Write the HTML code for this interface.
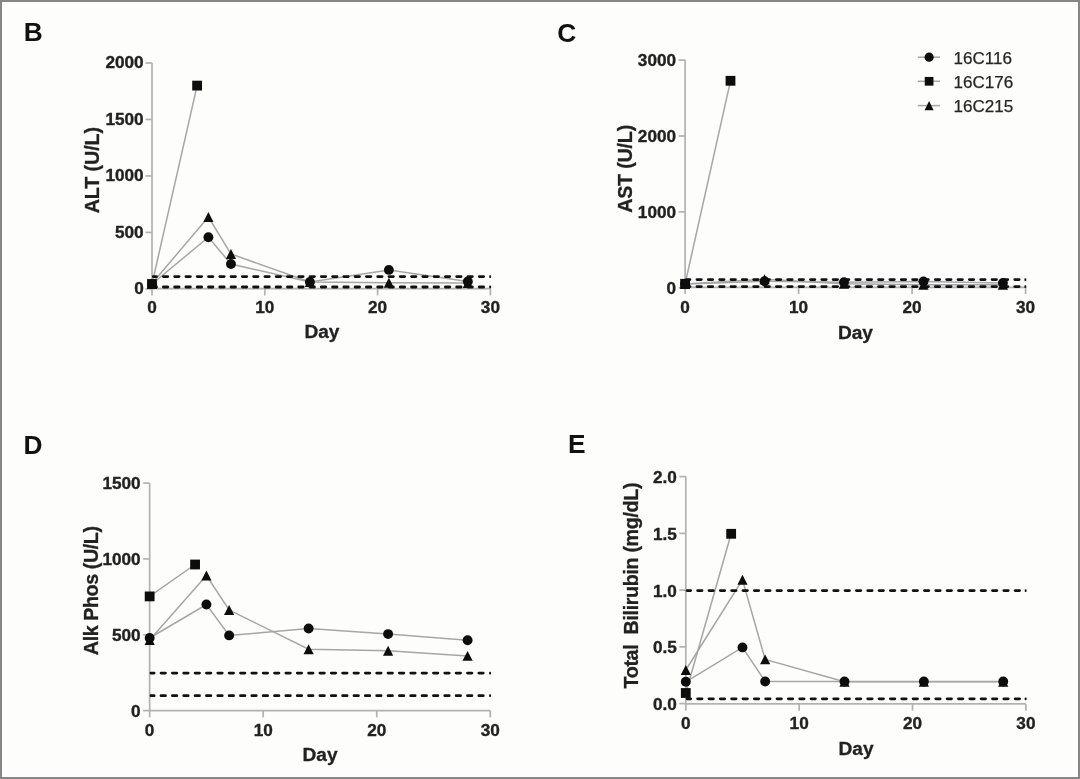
<!DOCTYPE html>
<html><head><meta charset="utf-8"><style>
html,body{margin:0;padding:0;background:#fdfdfc;}
body{width:1080px;height:779px;overflow:hidden;position:relative;}
.bd{position:absolute;left:0;top:0;width:1076px;height:775px;border:2px solid #878787;}
svg{display:block;filter:blur(0.5px);}
text{font-family:"Liberation Sans", sans-serif;}
.tk{font-size:17.2px;font-weight:bold;fill:#222;stroke:#222;stroke-width:0.35px;}
.ti{font-size:19.7px;font-weight:bold;fill:#222;stroke:#222;stroke-width:0.3px;}
.lt{font-size:26.3px;font-weight:bold;fill:#111;}
.lg{font-size:17.1px;fill:#262626;stroke:#262626;stroke-width:0.25px;}
</style></head><body>
<svg width="1080" height="779" viewBox="0 0 1080 779">
<rect x="0" y="0" width="1080" height="779" fill="#fdfdfc"/>
<path d="M152 63V288.6H490.4" fill="none" stroke="#b2b2b2" stroke-width="1.7"/>
<path d="M145.5 288.9H152" stroke="#b2b2b2" stroke-width="1.7"/>
<text x="143.7" y="294.3" text-anchor="end" class="tk">0</text>
<path d="M145.5 232.42H152" stroke="#b2b2b2" stroke-width="1.7"/>
<text x="143.7" y="237.82" text-anchor="end" class="tk">500</text>
<path d="M145.5 175.95H152" stroke="#b2b2b2" stroke-width="1.7"/>
<text x="143.7" y="181.35" text-anchor="end" class="tk">1000</text>
<path d="M145.5 119.47H152" stroke="#b2b2b2" stroke-width="1.7"/>
<text x="143.7" y="124.88" text-anchor="end" class="tk">1500</text>
<path d="M145.5 63H152" stroke="#b2b2b2" stroke-width="1.7"/>
<text x="143.7" y="68.4" text-anchor="end" class="tk">2000</text>
<path d="M152 288.6V295.4" stroke="#b2b2b2" stroke-width="1.7"/>
<text x="152" y="313.4" text-anchor="middle" class="tk">0</text>
<path d="M264.8 288.6V295.4" stroke="#b2b2b2" stroke-width="1.7"/>
<text x="264.8" y="313.4" text-anchor="middle" class="tk">10</text>
<path d="M377.6 288.6V295.4" stroke="#b2b2b2" stroke-width="1.7"/>
<text x="377.6" y="313.4" text-anchor="middle" class="tk">20</text>
<path d="M490.4 288.6V295.4" stroke="#b2b2b2" stroke-width="1.7"/>
<text x="490.4" y="313.4" text-anchor="middle" class="tk">30</text>
<path d="M152 284L208.4 237.2L230.96 264L309.92 282L388.88 269.9L467.84 281.5" fill="none" stroke="#a6a6a6" stroke-width="1.5"/>
<path d="M152 284L197.12 85.6" fill="none" stroke="#a6a6a6" stroke-width="1.5"/>
<path d="M152 283.5L208.4 217L230.96 254L309.92 282L388.88 282.7L467.84 283" fill="none" stroke="#a6a6a6" stroke-width="1.5"/>
<path d="M153.3 276.6H489.5" stroke="#111" stroke-width="2.8" stroke-dasharray="4.4 6.88" stroke-linecap="round" stroke-dashoffset="1.2"/>
<rect x="489.2" y="275.2" width="1.9" height="2.8" rx="0.8" fill="#111"/>
<path d="M153.3 287H489.5" stroke="#111" stroke-width="2.8" stroke-dasharray="4.4 6.88" stroke-linecap="round" stroke-dashoffset="1.2"/>
<rect x="489.2" y="285.6" width="1.9" height="2.8" rx="0.8" fill="#111"/>
<rect x="147.1" y="279.1" width="9.8" height="9.8" fill="#0d0d0d"/>
<rect x="192.22" y="80.7" width="9.8" height="9.8" fill="#0d0d0d"/>
<path d="M152 278.55L157.1 288.45L146.9 288.45Z" fill="#0d0d0d"/>
<path d="M208.4 212.05L213.5 221.95L203.3 221.95Z" fill="#0d0d0d"/>
<path d="M230.96 249.05L236.06 258.95L225.86 258.95Z" fill="#0d0d0d"/>
<path d="M309.92 277.05L315.02 286.95L304.82 286.95Z" fill="#0d0d0d"/>
<path d="M388.88 277.75L393.98 287.65L383.78 287.65Z" fill="#0d0d0d"/>
<path d="M467.84 278.05L472.94 287.95L462.74 287.95Z" fill="#0d0d0d"/>
<circle cx="152" cy="284" r="4.95" fill="#0d0d0d"/>
<circle cx="208.4" cy="237.2" r="4.95" fill="#0d0d0d"/>
<circle cx="230.96" cy="264" r="4.95" fill="#0d0d0d"/>
<circle cx="309.92" cy="282" r="4.95" fill="#0d0d0d"/>
<circle cx="388.88" cy="269.9" r="4.95" fill="#0d0d0d"/>
<circle cx="467.84" cy="281.5" r="4.95" fill="#0d0d0d"/>
<text x="321.9" y="338.3" text-anchor="middle" class="ti" style="font-size:19.1px">Day</text>
<text transform="translate(98.7 170.2) rotate(-90)" text-anchor="middle" class="ti" style="letter-spacing:-0.1px" xml:space="preserve">ALT (U/L)</text>
<text x="23.8" y="41.2" class="lt">B</text>
<path d="M685.1 60.1V287.3H1025.6" fill="none" stroke="#b2b2b2" stroke-width="1.7"/>
<path d="M678.6 287.8H685.1" stroke="#b2b2b2" stroke-width="1.7"/>
<text x="676.1" y="293.8" text-anchor="end" class="tk">0</text>
<path d="M678.6 211.9H685.1" stroke="#b2b2b2" stroke-width="1.7"/>
<text x="676.1" y="217.9" text-anchor="end" class="tk">1000</text>
<path d="M678.6 136H685.1" stroke="#b2b2b2" stroke-width="1.7"/>
<text x="676.1" y="142" text-anchor="end" class="tk">2000</text>
<path d="M678.6 60.1H685.1" stroke="#b2b2b2" stroke-width="1.7"/>
<text x="676.1" y="66.1" text-anchor="end" class="tk">3000</text>
<path d="M685.1 287.3V294.1" stroke="#b2b2b2" stroke-width="1.7"/>
<text x="685.1" y="312.8" text-anchor="middle" class="tk">0</text>
<path d="M798.6 287.3V294.1" stroke="#b2b2b2" stroke-width="1.7"/>
<text x="798.6" y="312.8" text-anchor="middle" class="tk">10</text>
<path d="M912.1 287.3V294.1" stroke="#b2b2b2" stroke-width="1.7"/>
<text x="912.1" y="312.8" text-anchor="middle" class="tk">20</text>
<path d="M1025.6 287.3V294.1" stroke="#b2b2b2" stroke-width="1.7"/>
<text x="1025.6" y="312.8" text-anchor="middle" class="tk">30</text>
<path d="M685.1 284L764.55 281.2L844 282.3L923.45 281.5L1002.9 283" fill="none" stroke="#a6a6a6" stroke-width="1.5"/>
<path d="M685.1 283.8L730.5 80.8" fill="none" stroke="#a6a6a6" stroke-width="1.5"/>
<path d="M685.1 284L764.55 279.3L844 283.8L923.45 284.8L1002.9 284.8" fill="none" stroke="#a6a6a6" stroke-width="1.5"/>
<path d="M686.4 279.6H1024.7" stroke="#111" stroke-width="2.8" stroke-dasharray="4.4 6.95" stroke-linecap="round" stroke-dashoffset="0.8"/>
<rect x="1024.4" y="278.2" width="1.9" height="2.8" rx="0.8" fill="#111"/>
<path d="M686.4 286.6H1024.7" stroke="#111" stroke-width="2.8" stroke-dasharray="4.4 6.95" stroke-linecap="round" stroke-dashoffset="0.8"/>
<rect x="1024.4" y="285.2" width="1.9" height="2.8" rx="0.8" fill="#111"/>
<rect x="680.2" y="278.9" width="9.8" height="9.8" fill="#0d0d0d"/>
<rect x="725.6" y="75.9" width="9.8" height="9.8" fill="#0d0d0d"/>
<path d="M685.1 279.05L690.2 288.95L680 288.95Z" fill="#0d0d0d"/>
<path d="M764.55 274.35L769.65 284.25L759.45 284.25Z" fill="#0d0d0d"/>
<path d="M844 278.85L849.1 288.75L838.9 288.75Z" fill="#0d0d0d"/>
<path d="M923.45 279.85L928.55 289.75L918.35 289.75Z" fill="#0d0d0d"/>
<path d="M1002.9 279.85L1008 289.75L997.8 289.75Z" fill="#0d0d0d"/>
<circle cx="685.1" cy="284" r="4.95" fill="#0d0d0d"/>
<circle cx="764.55" cy="281.2" r="4.95" fill="#0d0d0d"/>
<circle cx="844" cy="282.3" r="4.95" fill="#0d0d0d"/>
<circle cx="923.45" cy="281.5" r="4.95" fill="#0d0d0d"/>
<circle cx="1002.9" cy="283" r="4.95" fill="#0d0d0d"/>
<text x="855.4" y="338.5" text-anchor="middle" class="ti" style="font-size:19.1px">Day</text>
<text transform="translate(632.1 168.9) rotate(-90)" text-anchor="middle" class="ti" style="letter-spacing:-0.2px" xml:space="preserve">AST (U/L)</text>
<text x="557.2" y="42.2" class="lt">C</text>
<path d="M149.65 483.1V710.6H490.3" fill="none" stroke="#b2b2b2" stroke-width="1.7"/>
<path d="M143.15 710.6H149.65" stroke="#b2b2b2" stroke-width="1.7"/>
<text x="140.65" y="716.6" text-anchor="end" class="tk">0</text>
<path d="M143.15 634.77H149.65" stroke="#b2b2b2" stroke-width="1.7"/>
<text x="140.65" y="640.77" text-anchor="end" class="tk">500</text>
<path d="M143.15 558.93H149.65" stroke="#b2b2b2" stroke-width="1.7"/>
<text x="140.65" y="564.93" text-anchor="end" class="tk">1000</text>
<path d="M143.15 483.1H149.65" stroke="#b2b2b2" stroke-width="1.7"/>
<text x="140.65" y="489.1" text-anchor="end" class="tk">1500</text>
<path d="M149.65 710.6V717.4" stroke="#b2b2b2" stroke-width="1.7"/>
<text x="149.65" y="736.1" text-anchor="middle" class="tk">0</text>
<path d="M263.2 710.6V717.4" stroke="#b2b2b2" stroke-width="1.7"/>
<text x="263.2" y="736.1" text-anchor="middle" class="tk">10</text>
<path d="M376.75 710.6V717.4" stroke="#b2b2b2" stroke-width="1.7"/>
<text x="376.75" y="736.1" text-anchor="middle" class="tk">20</text>
<path d="M490.3 710.6V717.4" stroke="#b2b2b2" stroke-width="1.7"/>
<text x="490.3" y="736.1" text-anchor="middle" class="tk">30</text>
<path d="M149.65 638L206.43 604.5L229.13 635.4L308.62 628.5L388.11 634.1L467.59 640.2" fill="none" stroke="#a6a6a6" stroke-width="1.5"/>
<path d="M149.65 596.4L195.07 564.5" fill="none" stroke="#a6a6a6" stroke-width="1.5"/>
<path d="M149.65 640L206.43 575.5L229.13 610L308.62 649.2L388.11 650.7L467.59 655.9" fill="none" stroke="#a6a6a6" stroke-width="1.5"/>
<path d="M150.95 673.1H489.4" stroke="#111" stroke-width="2.8" stroke-dasharray="4.4 6.95" stroke-linecap="round" stroke-dashoffset="1.25"/>
<rect x="489.1" y="671.7" width="1.9" height="2.8" rx="0.8" fill="#111"/>
<path d="M150.95 695.7H489.4" stroke="#111" stroke-width="2.8" stroke-dasharray="4.4 6.95" stroke-linecap="round" stroke-dashoffset="1.25"/>
<rect x="489.1" y="694.3" width="1.9" height="2.8" rx="0.8" fill="#111"/>
<rect x="144.75" y="591.5" width="9.8" height="9.8" fill="#0d0d0d"/>
<rect x="190.17" y="559.6" width="9.8" height="9.8" fill="#0d0d0d"/>
<path d="M149.65 635.05L154.75 644.95L144.55 644.95Z" fill="#0d0d0d"/>
<path d="M206.43 570.55L211.53 580.45L201.33 580.45Z" fill="#0d0d0d"/>
<path d="M229.13 605.05L234.23 614.95L224.03 614.95Z" fill="#0d0d0d"/>
<path d="M308.62 644.25L313.72 654.15L303.52 654.15Z" fill="#0d0d0d"/>
<path d="M388.11 645.75L393.21 655.65L383 655.65Z" fill="#0d0d0d"/>
<path d="M467.59 650.95L472.69 660.85L462.49 660.85Z" fill="#0d0d0d"/>
<circle cx="149.65" cy="638" r="4.95" fill="#0d0d0d"/>
<circle cx="206.43" cy="604.5" r="4.95" fill="#0d0d0d"/>
<circle cx="229.13" cy="635.4" r="4.95" fill="#0d0d0d"/>
<circle cx="308.62" cy="628.5" r="4.95" fill="#0d0d0d"/>
<circle cx="388.11" cy="634.1" r="4.95" fill="#0d0d0d"/>
<circle cx="467.59" cy="640.2" r="4.95" fill="#0d0d0d"/>
<text x="320" y="761.3" text-anchor="middle" class="ti" style="font-size:19.1px">Day</text>
<text transform="translate(97.7 590.8) rotate(-90)" text-anchor="middle" class="ti" style="letter-spacing:-0.42px" xml:space="preserve">Alk Phos (U/L)</text>
<text x="23.5" y="454" class="lt">D</text>
<path d="M685.8 476.6V703.9H1025.9" fill="none" stroke="#b2b2b2" stroke-width="1.7"/>
<path d="M679.3 703.6H685.8" stroke="#b2b2b2" stroke-width="1.7"/>
<text x="676.8" y="710" text-anchor="end" class="tk">0.0</text>
<path d="M679.3 646.85H685.8" stroke="#b2b2b2" stroke-width="1.7"/>
<text x="676.8" y="653.25" text-anchor="end" class="tk">0.5</text>
<path d="M679.3 590.1H685.8" stroke="#b2b2b2" stroke-width="1.7"/>
<text x="676.8" y="596.5" text-anchor="end" class="tk">1.0</text>
<path d="M679.3 533.35H685.8" stroke="#b2b2b2" stroke-width="1.7"/>
<text x="676.8" y="539.75" text-anchor="end" class="tk">1.5</text>
<path d="M679.3 476.6H685.8" stroke="#b2b2b2" stroke-width="1.7"/>
<text x="676.8" y="483" text-anchor="end" class="tk">2.0</text>
<path d="M685.8 703.9V710.7" stroke="#b2b2b2" stroke-width="1.7"/>
<text x="685.8" y="729.4" text-anchor="middle" class="tk">0</text>
<path d="M799.17 703.9V710.7" stroke="#b2b2b2" stroke-width="1.7"/>
<text x="799.17" y="729.4" text-anchor="middle" class="tk">10</text>
<path d="M912.53 703.9V710.7" stroke="#b2b2b2" stroke-width="1.7"/>
<text x="912.53" y="729.4" text-anchor="middle" class="tk">20</text>
<path d="M1025.9 703.9V710.7" stroke="#b2b2b2" stroke-width="1.7"/>
<text x="1025.9" y="729.4" text-anchor="middle" class="tk">30</text>
<path d="M685.8 681.8L742.48 647.4L765.16 681.5L844.51 681.5L923.87 681.5L1003.23 681.5" fill="none" stroke="#a6a6a6" stroke-width="1.5"/>
<path d="M685.8 693L731.15 533.8" fill="none" stroke="#a6a6a6" stroke-width="1.5"/>
<path d="M685.8 670L742.48 579.8L765.16 659.4L844.51 681.8L923.87 681.8L1003.23 681.8" fill="none" stroke="#a6a6a6" stroke-width="1.5"/>
<path d="M687.1 590.6H1025" stroke="#111" stroke-width="2.8" stroke-dasharray="4.4 6.94" stroke-linecap="round" stroke-dashoffset="0.8"/>
<rect x="1024.7" y="589.2" width="1.9" height="2.8" rx="0.8" fill="#111"/>
<path d="M687.1 698.8H1025" stroke="#111" stroke-width="2.8" stroke-dasharray="4.4 6.94" stroke-linecap="round" stroke-dashoffset="0.8"/>
<rect x="1024.7" y="697.4" width="1.9" height="2.8" rx="0.8" fill="#111"/>
<rect x="680.9" y="688.1" width="9.8" height="9.8" fill="#0d0d0d"/>
<rect x="726.25" y="528.9" width="9.8" height="9.8" fill="#0d0d0d"/>
<path d="M685.8 665.05L690.9 674.95L680.7 674.95Z" fill="#0d0d0d"/>
<path d="M742.48 574.85L747.58 584.75L737.38 584.75Z" fill="#0d0d0d"/>
<path d="M765.16 654.45L770.26 664.35L760.06 664.35Z" fill="#0d0d0d"/>
<path d="M844.51 676.85L849.61 686.75L839.41 686.75Z" fill="#0d0d0d"/>
<path d="M923.87 676.85L928.97 686.75L918.77 686.75Z" fill="#0d0d0d"/>
<path d="M1003.23 676.85L1008.33 686.75L998.13 686.75Z" fill="#0d0d0d"/>
<circle cx="685.8" cy="681.8" r="4.95" fill="#0d0d0d"/>
<circle cx="742.48" cy="647.4" r="4.95" fill="#0d0d0d"/>
<circle cx="765.16" cy="681.5" r="4.95" fill="#0d0d0d"/>
<circle cx="844.51" cy="681.5" r="4.95" fill="#0d0d0d"/>
<circle cx="923.87" cy="681.5" r="4.95" fill="#0d0d0d"/>
<circle cx="1003.23" cy="681.5" r="4.95" fill="#0d0d0d"/>
<text x="856" y="755.3" text-anchor="middle" class="ti" style="font-size:19.1px">Day</text>
<text transform="translate(637.7 585.7) rotate(-90)" text-anchor="middle" class="ti" style="letter-spacing:-0.35px" xml:space="preserve">Total  Bilirubin (mg/dL)</text>
<text x="568" y="452.8" class="lt">E</text>
<path d="M917.8 57.2H940" stroke="#a6a6a6" stroke-width="1.5"/>
<circle cx="929.1" cy="57.2" r="4.6" fill="#0d0d0d"/>
<text x="953.4" y="63.5" class="lg">16C116</text>
<path d="M917.8 81.3H940" stroke="#a6a6a6" stroke-width="1.5"/>
<rect x="924.75" y="76.95" width="8.7" height="8.7" fill="#0d0d0d"/>
<text x="953.4" y="87.6" class="lg">16C176</text>
<path d="M917.8 105.6H940" stroke="#a6a6a6" stroke-width="1.5"/>
<path d="M929.1 100.9L933.6 110.3L924.6 110.3Z" fill="#0d0d0d"/>
<text x="953.4" y="111.9" class="lg">16C215</text>
</svg>
<div class="bd"></div>
</body></html>
